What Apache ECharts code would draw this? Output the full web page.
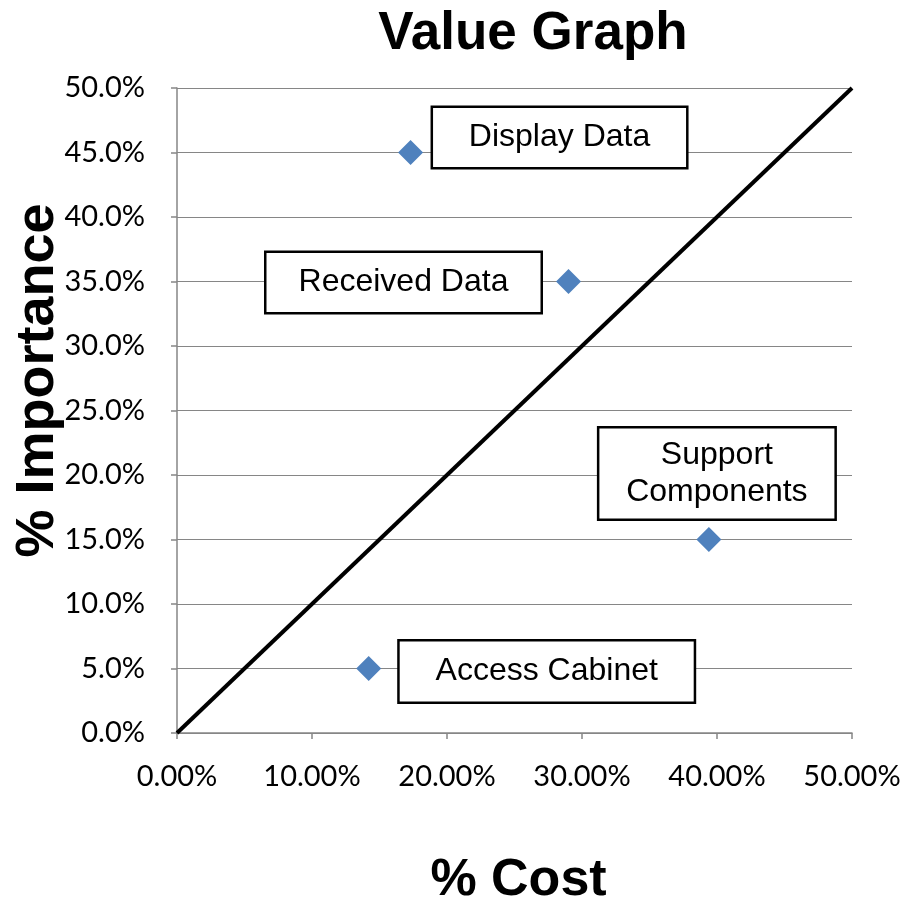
<!DOCTYPE html>
<html>
<head>
<meta charset="utf-8">
<style>
  html, body { margin: 0; padding: 0; background: #ffffff; }
  #chart { width: 905px; height: 902px; }
</style>
<script src="https://cdn.jsdelivr.net/npm/echarts@6/dist/echarts.min.js"></script>
</head>
<body>
<div id="chart"></div>
<script>
// Functions and their share of cost vs. share of importance (in percent)
const functionNames = ['Display Data', 'Received Data', 'Support\nComponents', 'Access Cabinet'];
const costPct = [17.3, 29.0, 39.4, 14.2];
const importancePct = [45, 35, 15, 5];

// Reference line where importance equals cost
const parityLine = [[0, 0], [50, 50]];

// Axis ranges
const xMin = 0, xMax = 50, xStep = 10;
const yMin = 0, yMax = 50, yStep = 5;

// Callout box geometry for each point: offset from the marker and box size
const callouts = [
  { dx: 149, dy: -15, w: 253, h: 59 },
  { dx: -165, dy: 1, w: 274, h: 59 },
  { dx: 8, dy: -66, w: 235, h: 90 },
  { dx: 178, dy: 3, w: 294, h: 60 }
];

const axisGray = '#868686';
const labelFont = 'Lato, "Open Sans", sans-serif';
const boldFont = '"Liberation Sans", Arial, sans-serif';

const pointData = functionNames.map((name, i) => ({
  name: name,
  value: [costPct[i], importancePct[i]],
  label: {
    show: true,
    position: 'inside',
    offset: [callouts[i].dx, callouts[i].dy],
    width: callouts[i].w,
    height: callouts[i].h,
    align: 'center',
    verticalAlign: 'middle',
    formatter: '{b}',
    color: '#000000',
    textBorderWidth: 0,
    textShadowBlur: 0,
    fontFamily: boldFont,
    fontSize: 32,
    lineHeight: 37,
    backgroundColor: '#ffffff',
    borderColor: '#000000',
    borderWidth: 2.5,
    padding: 0
  }
}));

const chart = echarts.init(document.getElementById('chart'), null, { renderer: 'canvas' });

chart.setOption({
  animation: false,
  backgroundColor: '#ffffff',
  title: {
    text: 'Value Graph',
    left: 528,
    top: 3,
    textAlign: 'center',
    textStyle: { fontFamily: boldFont, fontWeight: 'bold', fontSize: 53, color: '#000' }
  },
  grid: { left: 177, width: 675, top: 88, height: 645, containLabel: false, outerBoundsMode: 'none' },
  xAxis: {
    type: 'value',
    min: xMin, max: xMax, interval: xStep,
    name: '% Cost',
    nameLocation: 'middle',
    nameGap: 122,
    nameMoveOverlap: false,
    nameTextStyle: { fontFamily: boldFont, fontWeight: 'bold', fontSize: 52, color: '#000', padding: [0, 0, 0, 8] },
    axisLine: { show: true, lineStyle: { color: axisGray, width: 1.5 } },
    axisTick: { show: true, length: 6, lineStyle: { color: axisGray, width: 1.5 } },
    splitLine: { show: false },
    axisLabel: {
      formatter: v => v.toFixed(2) + '%',
      fontFamily: labelFont, fontSize: 29, color: '#000', margin: 29
    }
  },
  yAxis: {
    type: 'value',
    min: yMin, max: yMax, interval: yStep,
    name: '% Importance',
    nameLocation: 'middle',
    nameRotate: 90,
    nameGap: 112,
    nameMoveOverlap: false,
    nameTextStyle: { fontFamily: boldFont, fontWeight: 'bold', fontSize: 54, color: '#000', padding: [0, 0, 0, 60] },
    axisLine: { show: true, lineStyle: { color: axisGray, width: 1.5 } },
    axisTick: { show: true, length: 6, lineStyle: { color: axisGray, width: 1.5 } },
    splitLine: { show: true, lineStyle: { color: axisGray, width: 1.2 } },
    axisLabel: {
      formatter: v => v.toFixed(1) + '%',
      fontFamily: labelFont, fontSize: 29, color: '#000', margin: 32
    }
  },
  series: [
    {
      type: 'line',
      data: parityLine,
      showSymbol: false,
      symbol: 'none',
      lineStyle: { color: '#000', width: 4 },
      z: 2,
      silent: true
    },
    {
      type: 'scatter',
      data: pointData,
      symbol: 'diamond',
      symbolSize: 25,
      itemStyle: { color: '#4F81BD', opacity: 1 },
      z: 3
    }
  ]
});
</script>
</body>
</html>
